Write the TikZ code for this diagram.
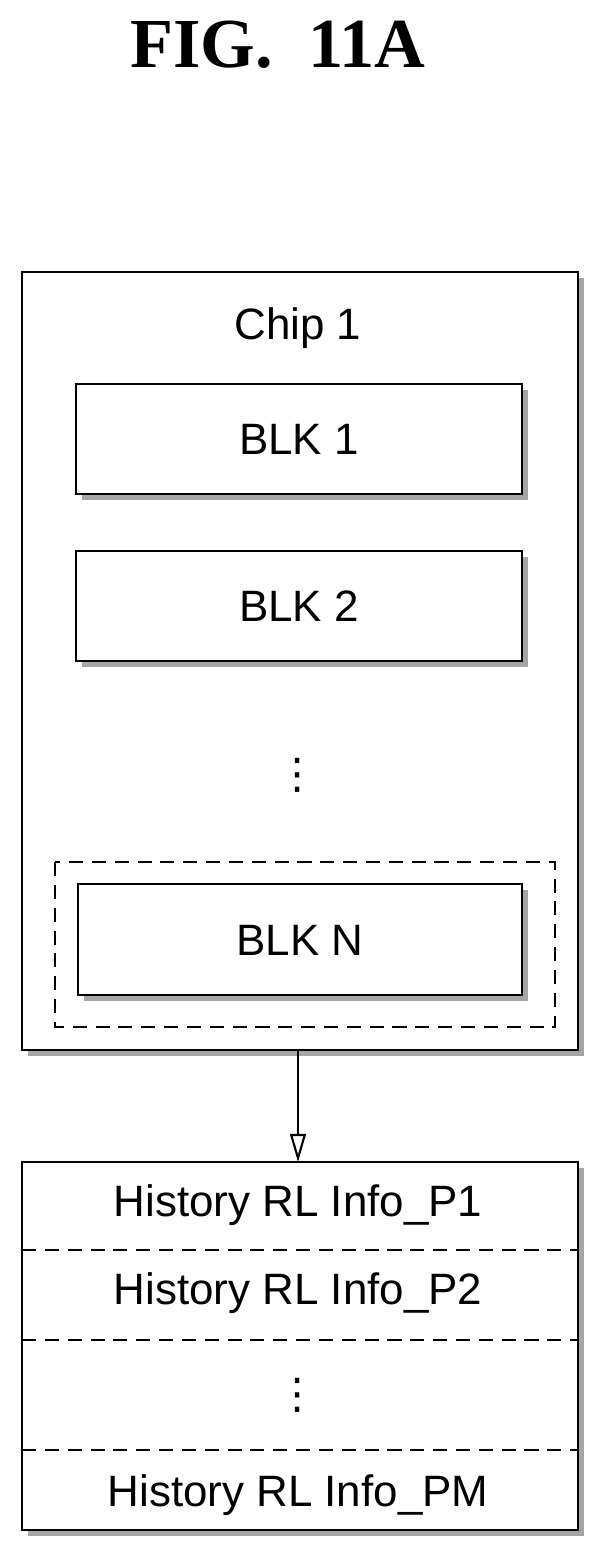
\documentclass[tikz,border=0pt]{standalone}
\usepackage{fontspec}
\setmainfont{Liberation Sans}
\newfontfamily\dotsfont{DejaVu Sans}
\usetikzlibrary{arrows.meta, positioning}

\tikzset{
  shadowbox/.style={draw, line width=1.2pt, fill=white},
  shade/.style={fill=gray!70},
  lbl/.style={font=\fontsize{25}{29}\selectfont},
  vdotsl/.style={font=\dotsfont\fontsize{24}{28}\selectfont},
  sep/.style={dashed, line width=0.9pt, dash pattern=on 8pt off 5pt},
}

\begin{document}
\begin{tikzpicture}[x=0.02cm, y=-0.02cm]
\useasboundingbox (0,0) rectangle (606,1568);

\node[font=\bfseries\fontspec{Liberation Serif}\fontsize{40}{44}\selectfont] (title) at (278,45) {FIG.\ \ 11A};

% chip with shadow
\fill[shade] (28,278) rectangle (584,1056);
\draw[shadowbox] (22,272) rectangle (578,1050);
\coordinate (chipS) at (298,1050);
\node[lbl] (chip) at (298,328) {Chip 1};

% blocks
\foreach \name/\top/\txt in {b1/384/BLK 1, b2/551/BLK 2}{
  \fill[shade] (82,\top+6) rectangle (528,\top+116);
  \draw[shadowbox] (76,\top) rectangle (522,\top+110);
  \node[lbl] (\name) at (299,\top+55) {\txt};
}
\node[vdotsl] (vdots1) at (298,775) {⋮};

\draw[sep] (55,862) rectangle (555,1027);
\fill[shade] (84,890) rectangle (528,1001);
\draw[shadowbox] (78,884) rectangle (522,995);
\node[lbl] (bN) at (300,940) {BLK N};

% history table
\fill[shade] (28,1168) rectangle (584,1536);
\draw[shadowbox] (22,1162) rectangle (578,1530);
\coordinate (histN) at (298,1162);
\foreach \y in {1250,1340,1450}
  \draw[sep] (22,\y) -- (578,\y);
\node[lbl] (h1) at (298,1205) {History RL Info\_P1};
\node[lbl] (h2) at (298,1293) {History RL Info\_P2};
\node[vdotsl] (vdots2) at (298,1395) {⋮};
\node[lbl] (hM) at (298,1495) {History RL Info\_PM};

\draw[line width=1.2pt, -{Triangle[length=16pt, width=9pt, open]}] (chipS) -- (histN);
\end{tikzpicture}
\end{document}
